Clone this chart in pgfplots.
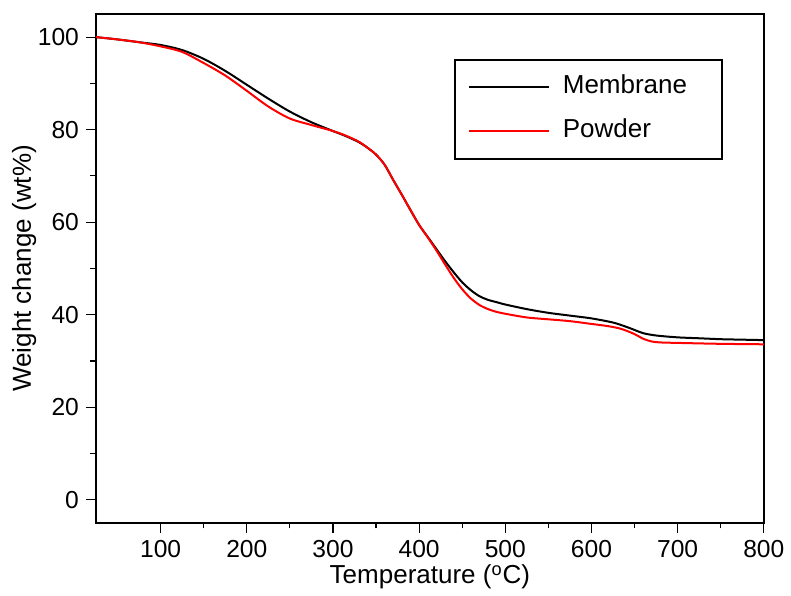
\documentclass[border=0pt]{standalone}
\usepackage{pgfplots}
\pgfplotsset{compat=1.18}
\usepackage{fontspec}
\setmainfont{Liberation Sans}
\begin{document}
\begin{tikzpicture}
\begin{axis}[
  name=ax,
  scale only axis,
  width=334pt, height=254.5pt,
  xmin=25, xmax=800, ymin=-5, ymax=105,
  xtick={100,200,...,800}, ytick={0,20,...,100},
  minor x tick num=1, minor y tick num=1,
  xtick pos=bottom, ytick pos=left,
  tick align=outside,
  major tick length=5pt, minor tick length=2.8pt,
  every tick/.style={line width=0.6pt, black},
  axis line style={line width=0.9pt},
  font=\fontsize{13}{15}\selectfont,
  ticklabel style={font=\fontsize{12.3}{14}\selectfont},
  /pgf/number format/assume math mode=true,
  xlabel={Temperature (\textsuperscript{o}C)},
  ylabel={Weight change (wt\%)},
  xlabel style={yshift=3pt},
  ylabel style={yshift=-6pt},
  legend cell align=left,
  legend style={at={(rel axis cs:0.9386,0.9116)}, anchor=north east,
    draw=black, line width=1pt, inner xsep=6.5pt, inner ysep=7.5pt,
    row sep=9.5pt,
    nodes={inner xsep=0pt, inner ysep=0pt, text height=9.5pt, text depth=3pt, text width=73pt, font=\fontsize{13}{15}\selectfont},
    /tikz/every odd column/.append style={column sep=6.5pt}},
  legend image code/.code={\draw[#1, line width=1pt] (0pt,0pt) -- (40pt,0pt);},
]
\addplot[black, line width=1pt, smooth] coordinates {
(25,100.0)(50,99.5)(75,98.9)(100,98.3)(125,97.2)(150,95.3)(175,92.7)(200,89.7)
(225,86.7)(250,83.9)(275,81.6)(300,79.7)(315,78.6)(330,77.3)(340,76.1)(350,74.6)(360,72.4)
(370,69.1)(380,65.9)(390,62.6)(400,59.4)(410,56.8)(420,54.2)(430,51.6)(440,49.2)
(450,47.0)(460,45.3)(470,44.0)(480,43.2)(490,42.7)(500,42.2)(525,41.2)(550,40.4)
(575,39.8)(600,39.2)(625,38.3)(640,37.4)(650,36.7)(660,36.0)(675,35.5)(700,35.1)
(725,34.9)(750,34.7)(775,34.6)(800,34.5)
};
\addlegendentry{Membrane}
\addplot[red, line width=1pt, smooth] coordinates {
(25,100.0)(50,99.5)(75,98.9)(100,98.0)(125,96.8)(150,94.4)(175,91.7)(200,88.4)
(225,85.0)(250,82.4)(275,81.0)(300,79.7)(315,78.7)(330,77.4)(340,76.1)(350,74.6)(360,72.4)
(370,69.1)(380,65.9)(390,62.6)(400,59.4)(410,56.7)(420,53.9)(430,50.9)(440,48.0)
(450,45.5)(460,43.5)(470,42.1)(480,41.2)(490,40.6)(500,40.2)(525,39.4)(550,39.0)
(575,38.6)(600,38.0)(620,37.5)(635,36.9)(650,35.8)(660,34.8)(670,34.2)(680,34.0)
(700,33.9)(750,33.7)(800,33.6)
};
\addlegendentry{Powder}
\end{axis}
\path ([xshift=-48pt,yshift=-35.5pt]ax.south west) rectangle ([xshift=13.5pt,yshift=7pt]ax.north east);
\end{tikzpicture}
\end{document}
